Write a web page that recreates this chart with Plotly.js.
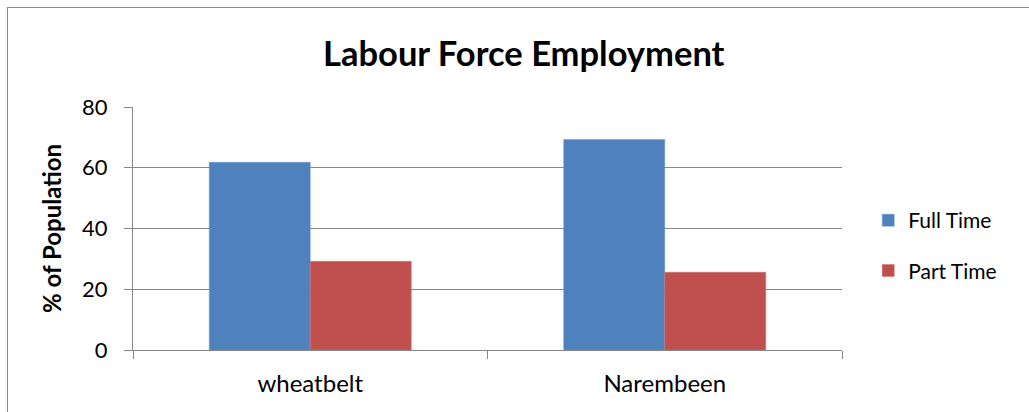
<!DOCTYPE html>
<html>
<head>
<meta charset="utf-8">
<script src="https://cdn.plot.ly/plotly-3.0.1.min.js"></script>
<style>
html,body{margin:0;padding:0;background:#fff;}
#wrap{position:relative;width:1029px;height:412px;overflow:hidden;}
#chart{position:absolute;left:0;top:0;width:1029px;height:412px;}
#frame{position:absolute;left:7px;top:7px;width:1040px;height:430px;border:1px solid #8a8a8a;box-sizing:border-box;pointer-events:none;}
</style>
</head>
<body>
<div id="wrap"><div id="chart"></div><div id="frame"></div></div>
<script>
const categories = ["wheatbelt", "Narembeen"];
const fullTime = [61.8, 69.3];
const partTime = [29.2, 25.6];
const seriesNames = ["Full Time", "Part Time"];
const yTicks = [0, 20, 40, 60, 80];

const font = "Lato, 'Open Sans', sans-serif";
const traces = [
  {type: "bar", name: seriesNames[0], x: categories, y: fullTime, legendgroup: "a",
   marker: {color: "#4f81bd", line: {color: "#6f96c8", width: 0.5}}},
  {type: "bar", name: seriesNames[1], x: categories, y: partTime, legendgroup: "b",
   marker: {color: "#c0504d", line: {color: "#d07370", width: 0.5}}}
];
const layout = {
  width: 1029, height: 412,
  margin: {l: 133, r: 187, t: 107, b: 62, autoexpand: false},
  paper_bgcolor: "rgba(0,0,0,0)", plot_bgcolor: "#fff",
  font: {family: font, color: "#000", size: 22},
  barmode: "group", bargap: 0.43, bargroupgap: 0,
  title: {text: "<b>Labour Force Employment</b>", font: {family: font, size: 34.5, color: "#000"},
          x: 0.509, xanchor: "center", y: 1 - 54/412, yanchor: "middle", xref: "container", yref: "container"},
  xaxis: {type: "category", showline: true, linecolor: "#878787", linewidth: 1,
          ticks: "outside", tickson: "boundaries", ticklen: 8, tickcolor: "#878787",
          showgrid: false, tickfont: {family: font, size: 24}, automargin: false, ticklabelstandoff: 12},
  yaxis: {range: [0, 80], tickvals: yTicks, showline: true, linecolor: "#878787", linewidth: 1,
          ticks: "outside", ticklen: 8, tickcolor: "#878787", showgrid: true, gridcolor: "#878787", gridwidth: 1,
          zeroline: false, tickfont: {family: font, size: 22}, automargin: false, ticklabelstandoff: 12,
          title: {text: "<b>% of Population</b>", font: {family: font, size: 24}, standoff: 13}},
  legend: {x: 1.037, xanchor: "left", y: 0.43, yanchor: "middle", font: {family: font, size: 21},
           traceorder: "grouped", tracegroupgap: 20, itemwidth: 30, bgcolor: "rgba(0,0,0,0)"},
  showlegend: true
};
Plotly.newPlot("chart", traces, layout, {displayModeBar: false, staticPlot: true});
</script>
</body>
</html>
